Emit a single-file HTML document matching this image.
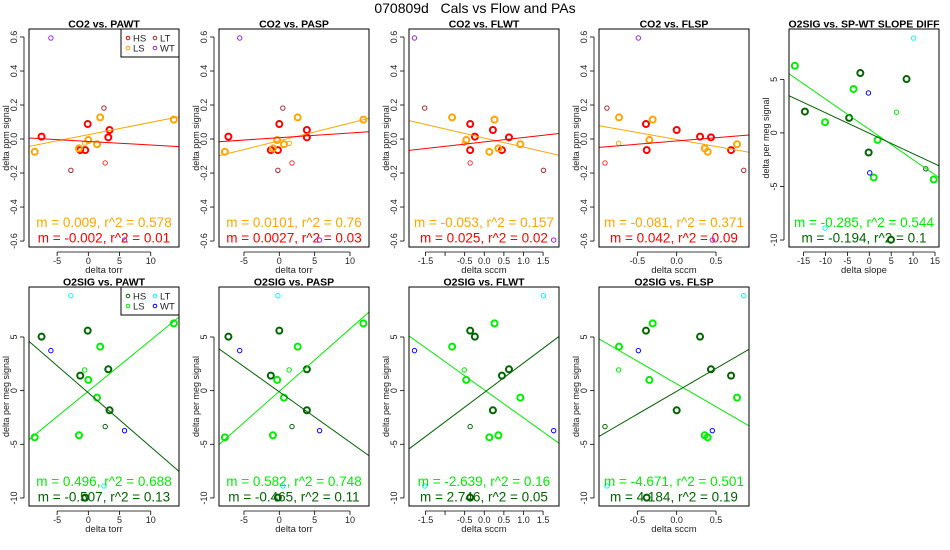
<!DOCTYPE html>
<html><head><meta charset="utf-8">
<style>
html,body{margin:0;padding:0;background:#fff;}
svg{display:block;font-family:"Liberation Sans",sans-serif;}
</style></head>
<body>
<svg id="chart" width="950" height="550" viewBox="0 0 950 550" xmlns="http://www.w3.org/2000/svg">
<rect width="950" height="550" fill="#fff"/>
<text x="475" y="13" font-size="14" text-anchor="middle" style="white-space:pre" xml:space="preserve">070809d   Cals vs Flow and PAs</text>
</svg>
<script>
// ---- data (one entry per calibration point) ----
const groups = ['HS','HS','HS','HS','HS','HS','LS','LS','LS','LS','LS','LS','LSt','HSt','LT','LT','WT','WT'];
const pawt  = [-7.5,-0.1,-1.3,-0.5,3.2,3.4, -8.6,-1.5,0,1.4,1.9,13.7, -0.6,2.7,-2.8,2.5,-6.0,5.8];
const pasp  = [-7.2,0.0,-1.2,-0.2,3.9,3.9, -7.7,-0.9,-0.3,0.66,2.6,11.9, 1.4,1.8,-0.2,0.5,-5.6,5.7];
const flwt  = [-0.24,-0.36,0.45,-0.36,0.63,0.22, 0.13,0.36,-0.46,0.92,-0.82,0.26, -0.51,-0.36,1.51,-1.52,-1.78,1.77];
const flsp  = [0.297,-0.39,0.691,-0.381,0.436,0.0, 0.394,0.356,-0.347,0.767,-0.733,-0.305, -0.737,-0.911,0.852,-0.886,-0.487,0.453];
const slopeDiff = [8.5,-2.05,-4.6,4.95,-14.7,-0.15, 14.7,1.0,-10.1,1.9,-3.6,-17.0, 6.2,12.9,10.1,-10.1,-0.2,0.1];
const co2   = [0.014,0.088,-0.065,-0.065,0.01,0.053, -0.075,-0.055,-0.006,-0.031,0.127,0.114, -0.025,-0.141,-0.184,0.182,0.594,-0.594];
const o2sig = [5.03,5.59,1.4,-9.97,1.99,-1.83, -4.35,-4.16,1.0,-0.65,4.1,6.27, 1.93,-3.35,8.85,-8.88,3.73,-3.73];

// fit lines per panel: [HS slope, HS intercept, LS slope, LS intercept]
const fitPAWTco2 = [-0.00212,-0.0142,0.00724,0.0255];
const fitPASPco2 = [0.00277,0.0078,0.01036,-0.010];
const fitFLWTco2 = [0.026,-0.017,-0.0532,0.006];
const fitFLSPco2 = [0.038,-0.0116,-0.082,-0.0026];
const fitSlopeO2 = [-0.191,-0.03,-0.283,0.33];
const fitPAWTo2  = [-0.504,-0.2,0.475,-0.04];
const fitPASPo2  = [-0.4696,-0.11,0.582,-0.06];
const fitFLWTo2  = [2.74,-0.17,-2.615,0.08];
const fitFLSPo2  = [4.26,-0.06,-4.25,0.63];

// printed stats: [LS line, HS line]
const statPAWTco2 = ['m = 0.009, r^2 = 0.578','m = -0.002, r^2 = 0.01'];
const statPASPco2 = ['m = 0.0101, r^2 = 0.76','m = 0.0027, r^2 = 0.03'];
const statFLWTco2 = ['m = -0.053, r^2 = 0.157','m = 0.025, r^2 = 0.02'];
const statFLSPco2 = ['m = -0.081, r^2 = 0.371','m = 0.042, r^2 = 0.09'];
const statSlopeO2 = ['m = -0.285, r^2 = 0.544','m = -0.194, r^2 = 0.1'];
const statPAWTo2  = ['m = 0.496, r^2 = 0.688','m = -0.507, r^2 = 0.13'];
const statPASPo2  = ['m = 0.582, r^2 = 0.748','m = -0.465, r^2 = 0.11'];
const statFLWTo2  = ['m = -2.639, r^2 = 0.16','m = 2.746, r^2 = 0.05'];
const statFLSPo2  = ['m = -4.671, r^2 = 0.501','m = 4.184, r^2 = 0.19'];

const co2Ticks = [-0.6,-0.4,-0.2,0,0.2,0.4,0.6];
const co2TickLabels = ['-0.6','-0.4','-0.2','0.0','0.2','0.4','0.6'];
const o2Ticks = [-10,-5,0,5];
const o2TickLabels = ['-10','-5','0','5'];
const torrTicks = [-5,0,5,10];
const torrTickLabels = ['-5','0','5','10'];
const flwtTicks = [-1.5,-1.0,-0.5,0,0.5,1.0,1.5];
const flwtTickLabels = ['-1.5','','-0.5','0.0','0.5','1.0','1.5'];
const flspTicks = [-0.5,0,0.5];
const flspTickLabels = ['-0.5','0.0','0.5'];
const slopeTicks = [-15,-10,-5,0,5,10,15];
const slopeTickLabels = ['-15','-10','-5','0','5','10','15'];

const NS='http://www.w3.org/2000/svg';
const svg=document.getElementById('chart');
function mk(tag,attrs,parent){const e=document.createElementNS(NS,tag);for(const k in attrs)e.setAttribute(k,attrs[k]);(parent||svg).appendChild(e);return e;}

const co2Colors={HS:'#ff0000',LS:'#ffa500',LSt:'#ffa500',HSt:'#ff3030',LT:'#a52a2a',WT:'#a020f0'};
const o2Colors={HS:'#006400',LS:'#00ee00',LSt:'#00ee00',HSt:'#006400',LT:'#00ffff',WT:'#0000ff'};

const R1=[29,247], R2=[287,506];
const panels=[
 {key:'co2-vs-pawt',title:'CO2 vs. PAWT',bx:[29,179],by:R1,xd:[-9.51,14.53],yd:[-0.635,0.647],xs:pawt,ys:co2,fit:fitPAWTco2,stat:statPAWTco2,xt:torrTicks,xtl:torrTickLabels,yt:co2Ticks,ytl:co2TickLabels,xlab:'delta torr',ylab:'delta ppm signal',col:co2Colors,legend:true},
 {key:'co2-vs-pasp',title:'CO2 vs. PASP',bx:[219,369],by:R1,xd:[-8.53,12.69],yd:[-0.635,0.647],xs:pasp,ys:co2,fit:fitPASPco2,stat:statPASPco2,xt:torrTicks,xtl:torrTickLabels,yt:co2Ticks,ytl:co2TickLabels,xlab:'delta torr',ylab:'delta ppm signal',col:co2Colors},
 {key:'co2-vs-flwt',title:'CO2 vs. FLWT',bx:[409,559],by:R1,xd:[-1.92,1.906],yd:[-0.635,0.647],xs:flwt,ys:co2,fit:fitFLWTco2,stat:statFLWTco2,xt:flwtTicks,xtl:flwtTickLabels,yt:co2Ticks,ytl:co2TickLabels,xlab:'delta sccm',ylab:'delta ppm signal',col:co2Colors},
 {key:'co2-vs-flsp',title:'CO2 vs. FLSP',bx:[599,749],by:R1,xd:[-0.987,0.919],yd:[-0.635,0.647],xs:flsp,ys:co2,fit:fitFLSPco2,stat:statFLSPco2,xt:flspTicks,xtl:flspTickLabels,yt:co2Ticks,ytl:co2TickLabels,xlab:'delta sccm',ylab:'delta ppm signal',col:co2Colors},
 {key:'o2sig-vs-slope-diff',title:'O2SIG vs. SP-WT SLOPE DIFF',bx:[789,939],by:R1,xd:[-18.33,15.91],yd:[-10.65,9.70],xs:slopeDiff,ys:o2sig,fit:fitSlopeO2,stat:statSlopeO2,xt:slopeTicks,xtl:slopeTickLabels,yt:o2Ticks,ytl:o2TickLabels,xlab:'delta slope',ylab:'delta per meg signal',col:o2Colors},
 {key:'o2sig-vs-pawt',title:'O2SIG vs. PAWT',bx:[29,179],by:R2,xd:[-9.51,14.53],yd:[-10.75,9.66],xs:pawt,ys:o2sig,fit:fitPAWTo2,stat:statPAWTo2,xt:torrTicks,xtl:torrTickLabels,yt:o2Ticks,ytl:o2TickLabels,xlab:'delta torr',ylab:'delta per meg signal',col:o2Colors,legend:true},
 {key:'o2sig-vs-pasp',title:'O2SIG vs. PASP',bx:[219,369],by:R2,xd:[-8.53,12.69],yd:[-10.75,9.66],xs:pasp,ys:o2sig,fit:fitPASPo2,stat:statPASPo2,xt:torrTicks,xtl:torrTickLabels,yt:o2Ticks,ytl:o2TickLabels,xlab:'delta torr',ylab:'delta per meg signal',col:o2Colors},
 {key:'o2sig-vs-flwt',title:'O2SIG vs. FLWT',bx:[409,559],by:R2,xd:[-1.92,1.906],yd:[-10.75,9.66],xs:flwt,ys:o2sig,fit:fitFLWTo2,stat:statFLWTo2,xt:flwtTicks,xtl:flwtTickLabels,yt:o2Ticks,ytl:o2TickLabels,xlab:'delta sccm',ylab:'delta per meg signal',col:o2Colors},
 {key:'o2sig-vs-flsp',title:'O2SIG vs. FLSP',bx:[599,749],by:R2,xd:[-0.987,0.919],yd:[-10.75,9.66],xs:flsp,ys:o2sig,fit:fitFLSPo2,stat:statFLSPo2,xt:flspTicks,xtl:flspTickLabels,yt:o2Ticks,ytl:o2TickLabels,xlab:'delta sccm',ylab:'delta per meg signal',col:o2Colors}
];

panels.forEach(p=>{
  const g=mk('g',{});
  
  
  const [x0,x1]=p.bx,[y0,y1]=p.by;
  const sx=v=>x0+(v-p.xd[0])/(p.xd[1]-p.xd[0])*(x1-x0);
  const sy=v=>y1-(v-p.yd[0])/(p.yd[1]-p.yd[0])*(y1-y0);
  const cid='clip-'+p.key;
  const cp=mk('clipPath',{id:cid},g);
  mk('rect',{x:x0,y:y0,width:x1-x0,height:y1-y0},cp);
  const t=mk('text',{x:(x0+x1)/2,y:y0-1.5,'font-size':10.5,'font-weight':'bold','text-anchor':'middle'},g);
  t.textContent=p.title;
  
  
  const xa=mk('g',{},g);
  
  
  const xmin=sx(p.xt[0]),xmax=sx(p.xt[p.xt.length-1]);
  mk('line',{x1:xmin,x2:xmax,y1:y1+5,y2:y1+5,stroke:'#000','stroke-width':0.8},xa);
  p.xt.forEach((v,i)=>{
    const X=sx(v);
    mk('line',{x1:X,x2:X,y1:y1+5,y2:y1+9,stroke:'#000','stroke-width':0.8},xa);
    if(p.xtl[i]){const tl=mk('text',{x:X,y:y1+17,'font-size':9,'text-anchor':'middle',fill:'#222'},xa);tl.textContent=p.xtl[i];
      
      }
  });
  const xl=mk('text',{x:(x0+x1)/2,y:y1+26,'font-size':9.5,'text-anchor':'middle',fill:'#222'},xa);
  xl.textContent=p.xlab;
  
  
  const ya=mk('g',{},g);
  
  
  const ymin=sy(p.yt[0]),ymax=sy(p.yt[p.yt.length-1]);
  mk('line',{x1:x0-5,x2:x0-5,y1:ymin,y2:ymax,stroke:'#000','stroke-width':0.8},ya);
  p.yt.forEach((v,i)=>{
    const Y=sy(v);
    mk('line',{x1:x0-9,x2:x0-5,y1:Y,y2:Y,stroke:'#000','stroke-width':0.8},ya);
    const tl=mk('text',{x:0,y:0,'font-size':9,'text-anchor':'middle',fill:'#222',transform:`translate(${x0-12},${Y}) rotate(-90)`},ya);
    tl.textContent=p.ytl[i];
    
    
  });
  const yl=mk('text',{x:0,y:0,'font-size':9,'text-anchor':'middle',fill:'#222',transform:`translate(${x0-20},${(y0+y1)/2}) rotate(-90)`},ya);
  yl.textContent=p.ylab;
  
  
  const pts=mk('g',{'clip-path':`url(#${cid})`},g);
  p.xs.forEach((xv,i)=>{
    const gr=groups[i];
    const thick=(gr==='HS'||gr==='LS');
    const c=mk('circle',{cx:sx(xv),cy:sy(p.ys[i]),r:thick?3:2.2,fill:'none',stroke:p.col[gr],'stroke-width':thick?2:1},pts);
    
    
  });
  const lines=[[p.fit[2],p.fit[3],p.col.LS,'ls-fit-line'],[p.fit[0],p.fit[1],p.col.HS,'hs-fit-line']];
  lines.forEach(([m,b,c,n])=>{
    const l=mk('line',{x1:sx(p.xd[0]),y1:sy(b+m*p.xd[0]),x2:sx(p.xd[1]),y2:sy(b+m*p.xd[1]),stroke:c,'stroke-width':1},pts);
    
    
  });
  const s1=mk('text',{x:(x0+x1)/2,y:y1-20,'font-size':13.5,'text-anchor':'middle',fill:p.col.LS},g);
  s1.textContent=p.stat[0];
  
  
  const s2=mk('text',{x:(x0+x1)/2,y:y1-4.5,'font-size':13.5,'text-anchor':'middle',fill:p.col.HS},g);
  s2.textContent=p.stat[1];
  
  
  mk('rect',{x:x0,y:y0,width:x1-x0,height:y1-y0,fill:'none',stroke:'#000','stroke-width':1},g);
  if(p.legend){
    const lg=mk('g',{},g);
    
    
    mk('rect',{x:121,y:y0,width:58,height:28,fill:'#fff',stroke:'#000','stroke-width':1},lg);
    const ents=[['HS',128,y0+9],['LT',155,y0+9],['LS',128,y0+19],['WT',155,y0+19]];
    ents.forEach(([n,ex,ey])=>{
      const eg=mk('g',{},lg);
      
      
      mk('circle',{cx:ex,cy:ey,r:1.8,fill:'none',stroke:p.col[n],'stroke-width':1},eg);
      const tx=mk('text',{x:ex+5,y:ey+3.5,'font-size':9.5,fill:'#222'},eg);
      tx.textContent=n;
    });
  }
});
</script>
</body></html>
